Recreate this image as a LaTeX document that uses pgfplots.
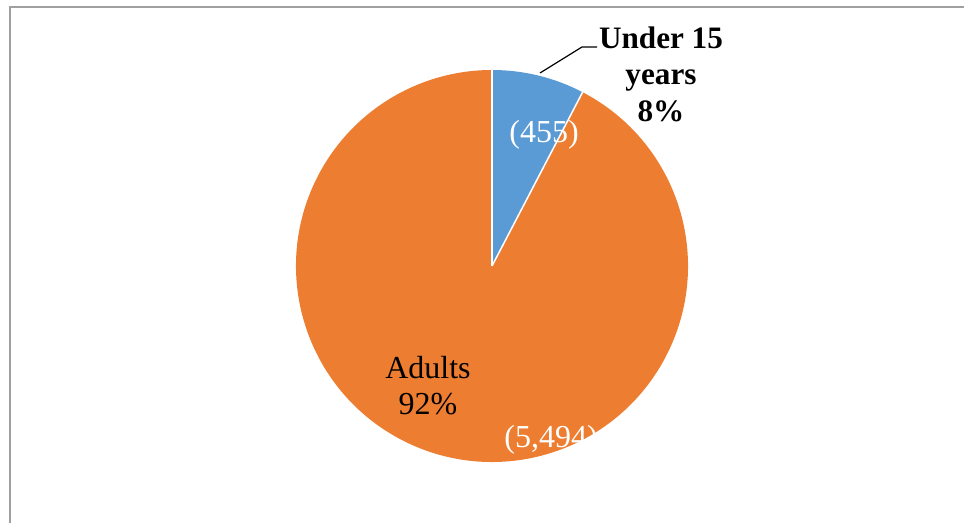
\documentclass[border=0pt]{standalone}
\usepackage{pgfplots}
\usepackage{pgfplotstable}
\usepackage{fontspec}
\setmainfont{Liberation Serif}
\pgfplotsset{compat=1.18}
\definecolor{pieblue}{HTML}{5B9BD5}
\definecolor{pieorange}{HTML}{ED7D31}
\definecolor{framegray}{HTML}{A0A0A0}
\pgfplotstableread{
group value
Under15 455
Adults 5494
}\piedata
\begin{document}
\begin{tikzpicture}
\pgfplotstablegetelem{0}{value}\of\piedata \let\va\pgfplotsretval
\pgfplotstablegetelem{1}{value}\of\piedata \let\vb\pgfplotsretval
\pgfmathsetmacro{\angA}{\va/(\va+\vb)*360}
\pgfmathsetmacro{\endA}{90-\angA}
\begin{axis}[
  scale only axis, width=482pt, height=261.5pt,
  xmin=0, xmax=964, ymin=0, ymax=523,
  hide axis, clip=false]
% frame
\draw[framegray, line width=1pt] (axis cs:10,0) -- (axis cs:10,516) -- (axis cs:964,516);
% wedges
\fill[pieorange] (axis cs:492,257) -- ++(\endA:98pt) arc[start angle=\endA, end angle=-270, radius=98pt] -- cycle;
\fill[pieblue] (axis cs:492,257) -- ++(90:98pt) arc[start angle=90, end angle=\endA, radius=98pt] -- cycle;
\draw[white, line width=0.75pt] (axis cs:492,257) -- ++(90:98pt);
\draw[white, line width=0.75pt] (axis cs:492,257) -- ++(\endA:98pt);
% leader line
\draw[black, line width=0.6pt] (axis cs:540,450) -- (axis cs:582,476) -- (axis cs:597,476);
% labels
\node[white, font=\fontsize{16}{18}\selectfont] at (axis cs:544,388) {(455)};
\node[align=center, font=\fontsize{15.6}{18.25}\selectfont\bfseries] at (axis cs:661,449) {Under 15\\years\\8\%};
\node[align=center, font=\fontsize{16}{18}\selectfont] at (axis cs:428,137) {Adults\\92\%};
\node[white, anchor=west, inner sep=0pt, font=\fontsize{16}{18}\selectfont] at (axis cs:504,83) {(5,494)};
\end{axis}
\pgfresetboundingbox
\useasboundingbox (0,0) rectangle (482pt,261.5pt);
\end{tikzpicture}
\end{document}
